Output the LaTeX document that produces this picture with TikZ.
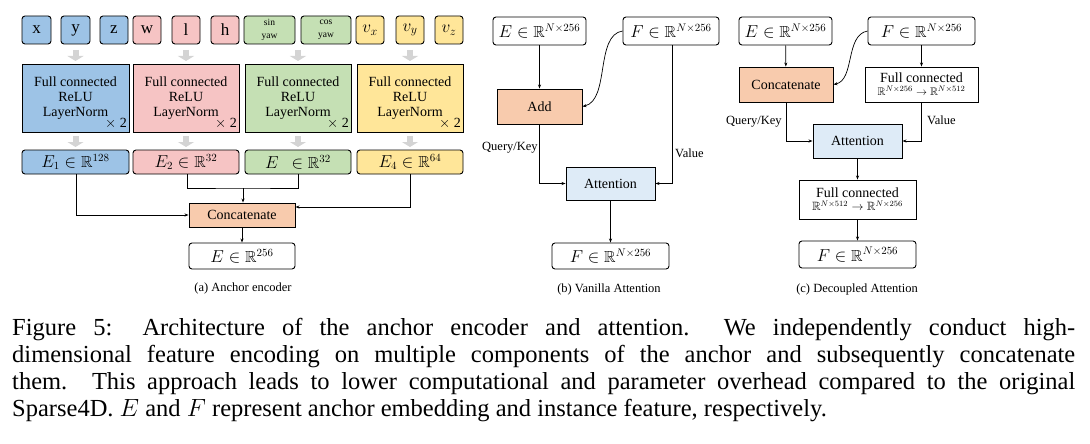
\documentclass[tikz,border=0pt]{standalone}
\usepackage{amssymb}
\usepackage{fontspec}
\setmainfont{Liberation Serif}
\usetikzlibrary{arrows.meta}
\definecolor{cb}{RGB}{157,195,230}
\definecolor{cp}{RGB}{246,196,196}
\definecolor{cg}{RGB}{197,224,180}
\definecolor{cy}{RGB}{255,230,153}
\definecolor{co}{RGB}{248,203,173}
\definecolor{cl}{RGB}{222,235,247}
\begin{document}
\begin{tikzpicture}[x=1pt,y=-1pt,
  rb/.style={draw,line width=0.9pt,rounded corners=3pt,inner sep=0pt},
  sb/.style={draw,line width=0.9pt,inner sep=0pt},
  ga/.style={line width=6pt,draw=black!17,-{Triangle[width=16pt,length=5pt]}},
  ar/.style={line width=0.7pt,-{Stealth[length=4pt,width=3pt]}},
  t/.style={font=\fontsize{14}{15}\selectfont},
  m/.style={font=\fontsize{16}{17}\selectfont},
  subcap/.style={font=\fontsize{12.5}{13}\selectfont}]
\useasboundingbox (0,0) rectangle (1090,444);
% top inputs
\foreach \n/\a/\b/\c/\s in {x/22/51/cb/x,y/61/90/cb/y,z/100/128/cb/z,w/133/161/cp/w,l/172/200/cp/l,h/211/239/cp/h,vx/356/384/cy/$v_x$,vy/396/424/cy/$v_y$,vz/435/463/cy/$v_z$}{
 \node[rb,fill=\c,minimum width=\b-\a,minimum height=28,font=\fontsize{17}{18}\selectfont] (\n) at ({(\a+\b)/2},30) {\s};}
\node[rb,fill=cg,minimum width=51,minimum height=28,font=\fontsize{9.5}{13}\selectfont,align=center] (sy) at (269.5,30) {sin\\yaw};
\node[rb,fill=cg,minimum width=50,minimum height=28,font=\fontsize{9.5}{13}\selectfont,align=center] (cy) at (326,30) {cos\\yaw};
% FC blocks
\foreach \n/\a/\b/\c in {f1/22/129/cb,f2/133/239/cp,f3/245/351/cg,f4/357/463/cy}{
 \node[sb,fill=\c,minimum width=\b-\a,minimum height=68,t,align=center] (\n) at ({(\a+\b)/2},98) {Full connected\\ReLU\\LayerNorm\hspace{1.2em}};
 \node[t,anchor=south east,inner sep=2pt] at (\b,131) {$\times$ 2};
 \draw[ga] ({(\a+\b)/2},50) -- ({(\a+\b)/2},61);
 \draw[ga] ({(\a+\b)/2},136) -- ({(\a+\b)/2},147);
}
\node[rb,fill=cb,minimum width=107,minimum height=24,m] (e1) at (75.5,162) {$E_1\in\mathbb{R}^{128}$};
\node[rb,fill=cp,minimum width=106,minimum height=24,m] (e2) at (186,162) {$E_2\in\mathbb{R}^{32}$};
\node[rb,fill=cg,minimum width=106,minimum height=24,m] (e3) at (298,162) {$E\ \ \in\mathbb{R}^{32}$};
\node[rb,fill=cy,minimum width=106,minimum height=24,m] (e4) at (410,162) {$E_4\in\mathbb{R}^{64}$};
\node[sb,fill=co,minimum width=106,minimum height=24,t] (cc) at (242,215) {Concatenate};
\node[rb,minimum width=106,minimum height=26,m] (eo) at (242,256) {$E\in\mathbb{R}^{256}$};
\coordinate (j) at (243,188);
\draw[line width=0.7pt] (e2.south -| 187,0) |- (j) -| (e3.south -| 298,0);
\draw[ar] (j) -- (cc.north -| j);
\draw[ar] (e1.south -| 76,0) |- (cc.west);
\draw[ar] (e4.south -| 410,0) |- (cc.east |- 0,207);
\draw[ar] (cc) -- (eo);
\node[subcap] at (243,288) {(a) Anchor encoder};
% (b)
\node[rb,minimum width=93,minimum height=28,m] (be) at (539.5,31) {$E\in\mathbb{R}^{N\times256}$};
\node[rb,minimum width=96,minimum height=28,m] (bf) at (671,31) {$F\in\mathbb{R}^{N\times256}$};
\node[sb,fill=co,minimum width=85,minimum height=35,t] (ba) at (539.5,106.5) {Add};
\node[sb,fill=cl,minimum width=89,minimum height=33,t] (bt) at (610.5,183.5) {Attention};
\node[rb,minimum width=117,minimum height=26,m] (bo) at (610.5,256) {$F\in\mathbb{R}^{N\times256}$};
\draw[ar] (be) -- (ba);
\draw[ar] (bf.west) .. controls (595,35) and (610,100) .. (ba.east);
\draw[ar] (ba.south) |- (bt.west);
\draw[ar] (bf.south -| 672,0) |- (bt.east);
\draw[ar] (bt) -- (bo);
\node[subcap,anchor=west,inner sep=0pt] at (482,148) {Query/Key};
\node[subcap,anchor=west,inner sep=0pt] at (675,153) {Value};
\node[subcap] at (609,289) {(b) Vanilla Attention};
% (c)
\node[rb,minimum width=93,minimum height=28,m] (ce) at (785.5,31) {$E\in\mathbb{R}^{N\times256}$};
\node[rb,minimum width=107,minimum height=28,m] (cf) at (921.5,31) {$F\in\mathbb{R}^{N\times256}$};
\node[sb,fill=co,minimum width=94,minimum height=35,t] (cc2) at (786,84.5) {Concatenate};
\node[sb,minimum width=113,minimum height=35,t,align=center] (fc1) at (921.5,84.5) {Full connected\\[-2pt]{\fontsize{11}{11}\selectfont$\mathbb{R}^{N\times256}\rightarrow\mathbb{R}^{N\times512}$}};
\node[sb,fill=cl,minimum width=89,minimum height=34,t] (ct) at (857.5,141) {Attention};
\node[sb,minimum width=117,minimum height=39,t,align=center] (fc2) at (857.5,199.5) {Full connected\\[-2pt]{\fontsize{12}{12}\selectfont$\mathbb{R}^{N\times512}\rightarrow\mathbb{R}^{N\times256}$}};
\node[rb,minimum width=117,minimum height=27,m] (co2) at (857.5,254.5) {$F\in\mathbb{R}^{N\times256}$};
\draw[ar] (ce) -- (cc2);
\draw[ar] (cf.west) .. controls (845,35) and (855,80) .. (cc2.east);
\draw[ar] (cf.south -| fc1) -- (fc1);
\draw[ar] (cc2.south) |- (ct.west);
\draw[ar] (fc1.south) |- (ct.east);
\draw[ar] (ct) -- (fc2);
\draw[ar] (fc2) -- (co2);
\node[subcap,anchor=west,inner sep=0pt] at (726,122) {Query/Key};
\node[subcap,anchor=west,inner sep=0pt] at (927,120) {Value};
\node[subcap] at (857,289) {(c) Decoupled Attention};
% caption
\node[anchor=north west,inner sep=0pt,text width=1063pt,align=justify,font=\fontsize{24.5}{27}\selectfont] (fig) at (12,318) {Figure 5: Architecture of the anchor encoder and attention.\ \ We independently conduct high-\linebreak dimensional feature encoding on multiple components of the anchor and subsequently concatenate\linebreak them. This approach leads to lower computational and parameter overhead compared to the original\linebreak Sparse4D. $E$ and $F$ represent anchor embedding and instance feature, respectively.};
\end{tikzpicture}
\end{document}
